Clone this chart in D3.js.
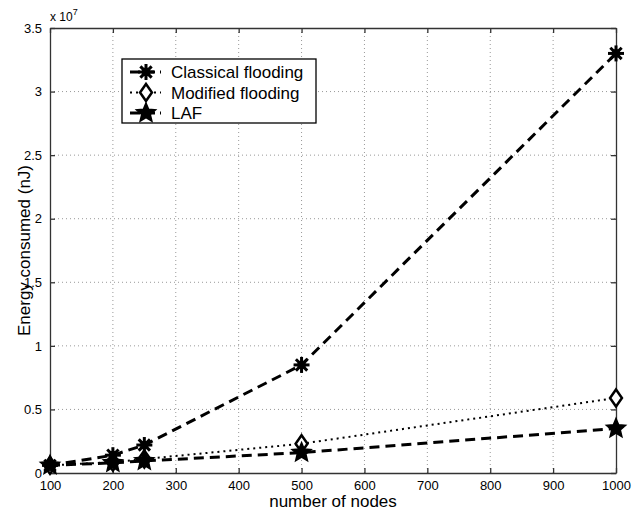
<!DOCTYPE html>
<html>
<head>
<meta charset="utf-8">
<script src="https://cdn.jsdelivr.net/npm/d3@7"></script>
<style>
  body { margin: 0; background: #fff; }
  text { font-family: "Liberation Sans", Arial, Helvetica, sans-serif; fill: #000; }
</style>
</head>
<body>
<div id="chart"></div>
<script>
var width = 634,
    height = 512;

// data (energy in units of 1e7 nJ)
const nodes = [100, 200, 250, 500, 1000];
const classical = [0.06, 0.14, 0.22, 0.85, 3.3];
const modified = [0.06, 0.085, 0.11, 0.23, 0.59];
const laf = [0.06, 0.08, 0.095, 0.16, 0.35];

const xTicks = [100, 200, 300, 400, 500, 600, 700, 800, 900, 1000];
const yTicks = [0, 0.5, 1, 1.5, 2, 2.5, 3, 3.5];

const seriesNames = ["Classical flooding", "Modified flooding", "LAF"];

var margin = {left: 50, right: 18, top: 28, bottom: 39};

var x = d3.scaleLinear().domain([100, 1000]).range([margin.left, width - margin.right]);
var y = d3.scaleLinear().domain([0, 3.5]).range([height - margin.bottom, margin.top]);

var svg = d3.select('#chart').append('svg')
  .attr('width', width)
  .attr('height', height);

// grid lines
var grid = svg.append('g');
grid.selectAll('.gx').data(xTicks.slice(1, -1)).enter().append('line')
  .attr('x1', d => x(d)).attr('x2', d => x(d))
  .attr('y1', y(0)).attr('y2', y(3.5))
  .attr('stroke', '#999').attr('stroke-width', 1)
  .attr('stroke-dasharray', '1,3');
grid.selectAll('.gy').data(yTicks.slice(1, -1)).enter().append('line')
  .attr('x1', x(100)).attr('x2', x(1000))
  .attr('y1', d => y(d)).attr('y2', d => y(d))
  .attr('stroke', '#999').attr('stroke-width', 1)
  .attr('stroke-dasharray', '1,3');

// axes (ticks point inward, like matlab)
var xAxis = d3.axisBottom(x).tickValues(xTicks).tickSizeInner(-5).tickSizeOuter(0).tickPadding(8)
  .tickFormat(d3.format('d'));
var xAxisTop = d3.axisTop(x).tickValues(xTicks).tickSizeInner(-5).tickSizeOuter(0).tickFormat('');
var yAxis = d3.axisLeft(y).tickValues(yTicks).tickSizeInner(-5).tickSizeOuter(0).tickPadding(8)
  .tickFormat(d => String(d));
var yAxisRight = d3.axisRight(y).tickValues(yTicks).tickSizeInner(-5).tickSizeOuter(0).tickFormat('');

function styleAxis(g) {
  g.selectAll('path, line').attr('stroke', '#333').attr('stroke-width', 1.3);
  g.selectAll('text').style('font-size', '13px').attr('fill', '#000');
}

svg.append('g').attr('transform', 'translate(0,' + y(0) + ')').call(xAxis).call(styleAxis);
svg.append('g').attr('transform', 'translate(0,' + y(3.5) + ')').call(xAxisTop).call(styleAxis);
svg.append('g').attr('transform', 'translate(' + x(100) + ',0)').call(yAxis).call(styleAxis);
svg.append('g').attr('transform', 'translate(' + x(1000) + ',0)').call(yAxisRight).call(styleAxis);

// exponent label
var expo = svg.append('text').attr('x', 50).attr('y', 21).style('font-size', '12px');
expo.append('tspan').text('x 10');
expo.append('tspan').attr('dy', -6).style('font-size', '9px').text('7');

// axis titles
svg.append('text')
  .attr('x', (x(100) + x(1000)) / 2).attr('y', 507)
  .attr('text-anchor', 'middle').style('font-size', '17px')
  .text('number of nodes');
svg.append('text')
  .attr('transform', 'translate(30,' + y(1.75) + ') rotate(-90)')
  .attr('text-anchor', 'middle').style('font-size', '17px')
  .text('Energy consumed (nJ)');

// marker shapes
var asterisk = function(g, s) {
  var r = s;
  for (var i = 0; i < 4; i++) {
    var a = i * Math.PI / 4;
    g.append('line')
      .attr('x1', -r * Math.cos(a)).attr('y1', -r * Math.sin(a))
      .attr('x2', r * Math.cos(a)).attr('y2', r * Math.sin(a))
      .attr('stroke', '#000').attr('stroke-width', 3);
  }
  g.append('circle').attr('r', r * 0.55).attr('fill', '#000');
};
var diamond = function(g, s) {
  g.append('path')
    .attr('d', 'M0,' + (-s) + 'L' + (s * 0.7) + ',0L0,' + s + 'L' + (-s * 0.7) + ',0Z')
    .attr('fill', '#fff').attr('stroke', '#000').attr('stroke-width', 2.5);
};
var star = function(g, s) {
  var pts = [];
  for (var i = 0; i < 10; i++) {
    var r = i % 2 === 0 ? s : s * 0.45;
    var a = -Math.PI / 2 + i * Math.PI / 5;
    pts.push([r * Math.cos(a), r * Math.sin(a)]);
  }
  g.append('path')
    .attr('d', 'M' + pts.join('L') + 'Z')
    .attr('fill', '#000').attr('stroke', '#000').attr('stroke-width', 1.5)
    .attr('stroke-linejoin', 'miter');
};

var series = [
  {name: seriesNames[0], values: classical, dash: '10,6', width: 3, marker: asterisk, size: 8},
  {name: seriesNames[1], values: modified, dash: '2,4', width: 2, marker: diamond, size: 8.5},
  {name: seriesNames[2], values: laf, dash: '10,6', width: 3, marker: star, size: 10}
];

var line = d3.line().x(d => x(d[0])).y(d => y(d[1]));

series.forEach(function(s) {
  var pts = nodes.map((n, i) => [n, s.values[i]]);
  svg.append('path')
    .datum(pts)
    .attr('d', line)
    .attr('fill', 'none')
    .attr('stroke', '#000')
    .attr('stroke-width', s.width)
    .attr('stroke-dasharray', s.dash);
});
// markers drawn after all lines
series.forEach(function(s) {
  nodes.forEach(function(n, i) {
    var g = svg.append('g').attr('transform', 'translate(' + x(n) + ',' + y(s.values[i]) + ')');
    s.marker(g, s.size);
  });
});

// legend
var legend = svg.append('g');
legend.append('rect')
  .attr('x', 122).attr('y', 59).attr('width', 194).attr('height', 64)
  .attr('fill', '#fff').attr('stroke', '#000').attr('stroke-width', 1.3);
series.forEach(function(s, i) {
  var ly = 72 + i * 20.5;
  legend.append('line')
    .attr('x1', 130).attr('x2', 161).attr('y1', ly).attr('y2', ly)
    .attr('stroke', '#000').attr('stroke-width', s.width)
    .attr('stroke-dasharray', s.dash === '10,6' ? '10,5' : '2,4');
  var g = legend.append('g').attr('transform', 'translate(146,' + ly + ')');
  s.marker(g, s.size);
  legend.append('text')
    .attr('x', 171).attr('y', ly + 6)
    .style('font-size', '17px')
    .text(s.name);
});
</script>
</body>
</html>
